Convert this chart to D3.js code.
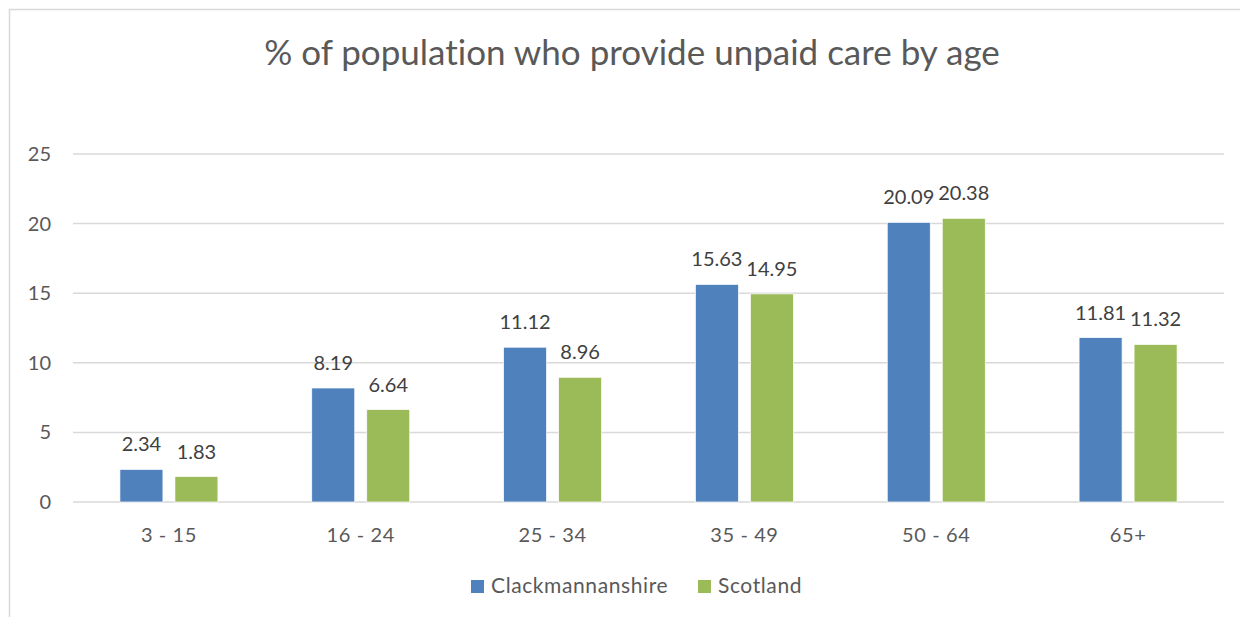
<!DOCTYPE html>
<html>
<head>
<meta charset="utf-8">
<script src="https://cdn.jsdelivr.net/npm/d3@7"></script>
<style>
  body { margin: 0; background: #fff; }
  svg { display: block; font-family: Lato, "Open Sans", sans-serif; font-variant-ligatures: none; }
</style>
</head>
<body>
<div id="plot"></div>
<script>
// chart data
var categories = ["3 - 15", "16 - 24", "25 - 34", "35 - 49", "50 - 64", "65+"];
var seriesNames = ["Clackmannanshire", "Scotland"];
var clackValues = [2.34, 8.19, 11.12, 15.63, 20.09, 11.81];
var scotlandValues = [1.83, 6.64, 8.96, 14.95, 20.38, 11.32];
var yTicks = [0, 5, 10, 15, 20, 25];
var colors = ["#4F81BD", "#9BBB59"];

var svgWidth = 1240, svgHeight = 617;
var margin = { top: 154, right: 16, bottom: 115, left: 73 };
var width = svgWidth - margin.left - margin.right;
var height = svgHeight - margin.top - margin.bottom;

var svg = d3.select("#plot").append("svg")
    .attr("width", svgWidth)
    .attr("height", svgHeight);

// outer chart border (left and top visible)
svg.append("rect")
    .attr("x", 9.5).attr("y", 9.5)
    .attr("width", 1260).attr("height", 640)
    .attr("fill", "none")
    .attr("stroke", "#d9d9d9")
    .attr("stroke-width", 1.5);

svg.append("text")
    .attr("x", 632).attr("y", 65)
    .attr("text-anchor", "middle")
    .attr("font-size", 35)
    .attr("fill", "#595959")
    .text("% of population who provide unpaid care by age");

var chartGroup = svg.append("g")
    .attr("transform", `translate(${margin.left}, ${margin.top})`);

// scales
var xScale = d3.scaleBand().domain(categories).range([0, width]);
var yScale = d3.scaleLinear().domain([0, 25]).range([height, 0]);

// gridlines
chartGroup.selectAll(".grid")
    .data(yTicks)
    .enter().append("line")
    .attr("x1", 0).attr("x2", width)
    .attr("y1", d => yScale(d)).attr("y2", d => yScale(d))
    .attr("stroke", "#d9d9d9")
    .attr("stroke-width", 1.5);

// y axis labels
var yAxis = d3.axisLeft(yScale).tickValues(yTicks).tickSize(0).tickPadding(22);
chartGroup.append("g").call(yAxis)
    .call(g => g.select(".domain").remove())
    .selectAll("text")
    .attr("font-size", 20)
    .attr("font-family", "Lato, 'Open Sans', sans-serif")
    .attr("fill", "#595959");

// x axis labels
var xAxis = d3.axisBottom(xScale).tickSize(0).tickPadding(26);
chartGroup.append("g")
    .attr("transform", `translate(0, ${height})`)
    .call(xAxis)
    .call(g => g.select(".domain").remove())
    .selectAll("text")
    .attr("font-size", 20)
    .attr("letter-spacing", 0.6)
    .attr("font-family", "Lato, 'Open Sans', sans-serif")
    .attr("fill", "#595959");

// bars
var barWidth = 43, barGap = 12;
var inner = d3.scaleBand().domain(seriesNames).range([0, barWidth * 2 + barGap]).paddingInner(barGap / (barWidth + barGap));
var allSeries = [clackValues, scotlandValues];

allSeries.forEach(function (vals, s) {
    var g = chartGroup.append("g");
    var offset = xScale.bandwidth() / 2 - (barWidth * 2 + barGap) / 2;
    g.selectAll("rect")
        .data(vals)
        .enter().append("rect")
        .attr("x", (d, i) => xScale(categories[i]) + offset + inner(seriesNames[s]))
        .attr("width", inner.bandwidth())
        .attr("y", d => yScale(d))
        .attr("height", d => height - yScale(d))
        .attr("fill", colors[s])
        .attr("stroke", "#fff")
        .attr("stroke-width", 0.7);
    g.selectAll("text")
        .data(vals)
        .enter().append("text")
        .attr("x", (d, i) => xScale(categories[i]) + offset + inner(seriesNames[s]) + inner.bandwidth() / 2)
        .attr("y", d => yScale(d) - 18)
        .attr("text-anchor", "middle")
        .attr("font-size", 20)
        .attr("fill", "#404040")
        .text(d => d.toFixed(2));
});

// legend
var legendItems = [{ name: seriesNames[0], x: 471 }, { name: seriesNames[1], x: 698 }];
var legend = svg.append("g");
legendItems.forEach(function (item, i) {
    legend.append("rect")
        .attr("x", item.x).attr("y", 580)
        .attr("width", 13).attr("height", 13)
        .attr("fill", colors[i]);
    legend.append("text")
        .attr("x", item.x + 20).attr("y", 593)
        .attr("font-size", 21)
        .attr("letter-spacing", 0.6)
        .attr("fill", "#595959")
        .text(item.name);
});
</script>
</body>
</html>
